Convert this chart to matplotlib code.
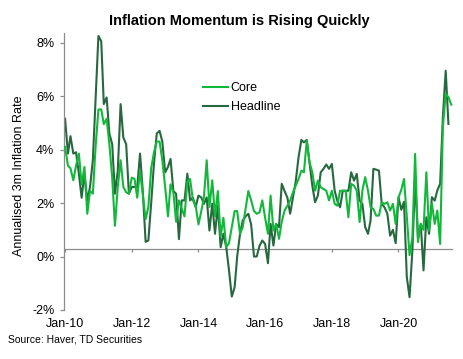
import numpy as np
import pandas as pd
import matplotlib
matplotlib.use("Agg")
import matplotlib.pyplot as plt
import matplotlib.dates as mdates

plt.rcParams['font.family'] = ['Liberation Sans', 'DejaVu Sans']

# monthly 3m annualised inflation, Jan-10 onwards (%)
core = [4.1, 3.4, 3.3, 2.85, 3.4, 3.85, 2.7, 3.35, 1.6, 2.45,
        2.35, 4.1, 5.5, 5.5, 4.95, 5.15, 4.2, 2.95, 1.15, 2.6,
        3.6, 2.6, 2.4, 2.35, 2.95, 2.9, 2.2, 3.2, 2.3, 1.4,
        1.85, 3.3, 3.9, 4.3, 4.3, 3.6, 2.6, 1.5, 2.7, 2.4,
        1.3, 2.1, 1.8, 1.5, 2.8, 2.9, 2.1, 1.9, 1.2, 1.7,
        2.2, 3.6, 1.85, 2.85, 1.5, 2.45, 0.75, 1.45, 0.35, 0.5,
        1.1, 1.7, 1.7, 0.85, 1.1, 1.8, 2.45, 2.1, 1.7, 1.6,
        1.65, 2.1, 1.45, 0.85, 2.28, 0.97, 1.22, 0.66, 1.3, 1.72,
        1.9, 2.09, 2.4, 2.65, 2.9, 3.21, 3.15, 4.34, 3.53, 3.15,
        2.46, 2.84, 2.59, 2.53, 2.46, 2.1, 2.46, 1.97, 1.9, 2.46,
        2.46, 2.46, 1.47, 2.72, 2.65, 2.46, 1.29, 2.46, 2.97, 2.46,
        1.84, 1.78, 1.53, 1.53, 2.03, 1.97, 2.03, 1.72, 1.97, 1.22,
        2.21, 2.5, 2.9, 1.5, 0.05, 0.72, 3.84, 0.54, 1.22, 1.0,
        3.15, 0.97, 1.97, 1.22, 1.72, 0.47, 4.84, 6.1, 5.96, 5.68]

headline = [5.15, 3.85, 4.5, 3.85, 3.9, 3.1, 2.2, 3.1, 2.1, 2.6,
            3.6, 5.9, 8.25, 8.05, 5.7, 5.95, 4.6, 4.2, 2.35, 3.2,
            5.7, 4.45, 4.2, 2.35, 2.6, 2.6, 2.6, 3.85, 2.45, 0.55,
            0.6, 2.0, 3.5, 4.6, 4.7, 4.3, 3.15, 3.35, 3.65, 2.45,
            2.35, 0.65, 2.1, 2.1, 3.1, 2.1, 2.2, 1.85, 2.28, 2.21,
            1.97, 2.21, 0.97, 1.97, 0.85, 1.9, 0.35, 0.85, 0.35, -0.5,
            -1.5, -1.15, 0.0, 0.85, 1.35, 1.5, 1.6, 1.2, 0.0, 0.0,
            0.4, 0.6, 0.47, -0.25, 1.22, 0.41, 1.22, 1.1, 2.72, 2.45,
            2.2, 1.6, 2.2, 2.8, 3.71, 4.36, 4.27, 4.36, 3.53, 2.65,
            2.03, 2.28, 3.15, 3.28, 3.44, 3.28, 3.46, 2.46, 2.09, 1.84,
            2.46, 2.46, 2.46, 3.15, 2.84, 3.09, 2.09, 1.97, 1.1, 0.85,
            1.35, 3.28, 3.25, 3.21, 1.97, 1.84, 1.6, 0.78, 1.0, 0.5,
            2.21, 1.75, 2.05, -0.77, -1.52, 0.22, 2.9, 0.72, 1.22, -0.52,
            1.47, 0.85, 2.22, 2.09, 2.47, 2.72, 5.21, 6.95, 4.96, np.nan]

dates = pd.date_range('2010-01-01', periods=len(core), freq='MS')
tick_dates = pd.date_range('2010-01-01', '2020-01-01', freq='24MS')
y_ticks = [-2, 0, 2, 4, 6, 8]

fig = plt.figure(figsize=(4.63, 3.59), dpi=100)
ax = fig.add_axes([64 / 463, 1 - 310 / 359, (453 - 64) / 463, (310 - 33) / 359])

ax.plot(dates, core, color='#12b83a', lw=1.5, label='Core', zorder=3)
ax.plot(dates, headline, color='#27683f', lw=1.5, label='Headline', zorder=2)

# axis line crossing at ~0.3%
cross = 0.3
ax.axhline(cross, color='#8c8c8c', lw=0.9, zorder=1)
ax.vlines(tick_dates, cross - 0.12, cross, color='#8c8c8c', lw=0.9, zorder=1)

ax.set_ylim(-2, 8.36)
ax.set_xlim(pd.Timestamp('2009-12-20'), pd.Timestamp('2021-08-20'))
ax.set_yticks(y_ticks)
ax.set_yticklabels([f'{v}%' for v in y_ticks], fontsize=9)
ax.set_xticks(tick_dates)
ax.xaxis.set_major_formatter(mdates.DateFormatter('%b-%y'))
ax.tick_params(axis='x', length=0, pad=6, labelsize=9)
ax.tick_params(axis='y', length=3, width=0.9, color='#8c8c8c', pad=4)

for s in ['top', 'right', 'bottom']:
    ax.spines[s].set_visible(False)
ax.spines['left'].set_color('#8c8c8c')
ax.spines['left'].set_linewidth(0.9)

ax.legend(loc='upper left', bbox_to_anchor=(197 / 463, 1 - 76 / 359),
          bbox_transform=fig.transFigure, frameon=False, fontsize=9,
          borderpad=0, handlelength=2.0, handletextpad=0.2, labelspacing=0.55)

fig.text(239 / 463, 1 - 21 / 359, 'Inflation Momentum is Rising Quickly',
         ha='center', va='center', fontsize=10.5, fontweight='bold')
fig.text(19 / 463, 1 - 176 / 359, 'Annualised 3m Inflation Rate',
         ha='center', va='center', rotation=90, fontsize=9)
fig.text(8 / 463, 1 - 340 / 359, 'Source: Haver, TD Securities',
         ha='left', va='center', fontsize=7.5)

fig.savefig('out.png', dpi=100)
